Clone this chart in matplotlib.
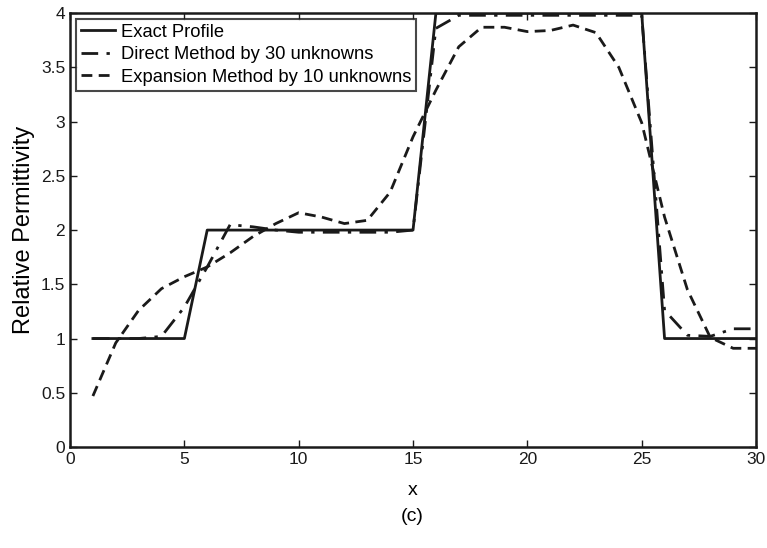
import numpy as np
import matplotlib
matplotlib.use("Agg")
import matplotlib.pyplot as plt

plt.rcParams['font.family'] = ['Liberation Sans', 'DejaVu Sans']

# valores (x = 1..30)
x = np.arange(1, 31)

exacto = [1, 1, 1, 1, 1,
          2, 2, 2, 2, 2, 2, 2, 2, 2, 2,
          4, 4, 4, 4, 4, 4, 4, 4, 4, 4,
          1, 1, 1, 1, 1]

directo = [1.0, 1.0, 1.0, 1.02, 1.29,
           1.66, 2.05, 2.03, 2.0, 1.98, 1.98, 1.98, 1.98, 1.98, 2.0,
           3.86, 3.98, 3.98, 3.98, 3.98, 3.98, 3.98, 3.98, 3.98, 3.98,
           1.26, 1.03, 1.02, 1.09, 1.09]

expansion = [0.47, 0.96, 1.26, 1.46, 1.57,
             1.66, 1.79, 1.94, 2.06, 2.16, 2.12, 2.06, 2.09, 2.35, 2.86,
             3.29, 3.69, 3.87, 3.87, 3.83, 3.84, 3.89, 3.82, 3.5, 2.99,
             2.12, 1.45, 1.01, 0.91, 0.91]

fig = plt.figure(figsize=(7.67, 5.48), dpi=100)
ax = fig.add_axes([0.0913, 0.1843, 0.8944, 0.7917])

ax.plot(x, exacto, color='#1a1a1a', lw=2.0, ls='-', label='Exact Profile')
ax.plot(x, directo, color='#1a1a1a', lw=2.0, ls=(0, (6, 3, 1.2, 3)),
        label='Direct Method by 30 unknowns')
ax.plot(x, expansion, color='#1a1a1a', lw=2.0, ls=(0, (3.9, 2.3)),
        label='Expansion Method by 10 unknowns')

ax.set_xlim(0, 30)
ax.set_ylim(0, 4)
ax.set_xticks(np.arange(0, 31, 5))
ax.set_yticks(np.arange(0, 4.01, 0.5))
ax.set_yticklabels(['0', '0.5', '1', '1.5', '2', '2.5', '3', '3.5', '4'])
ax.tick_params(direction='in', top=True, right=True, labelsize=12.5,
               length=5, width=1, colors='#1a1a1a')
for s in ax.spines.values():
    s.set_linewidth(1.8)
    s.set_color('#1a1a1a')

ax.set_xlabel('x', fontsize=14, labelpad=11)
ax.set_ylabel('Relative Permittivity', fontsize=17, labelpad=4)

leg = ax.legend(loc='upper left', fontsize=13.2, frameon=True, fancybox=False,
                handlelength=1.9, handletextpad=0.28, borderpad=0.28,
                labelspacing=0.3, borderaxespad=0.3)
leg.get_frame().set_edgecolor('#1a1a1a')
leg.get_frame().set_linewidth(1.5)

fig.text(0.538, 0.058, '(c)', fontsize=14, ha='center', va='center')

fig.savefig('out.png', dpi=100)
